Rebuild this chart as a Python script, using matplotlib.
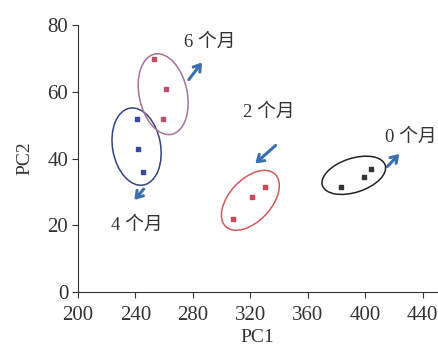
import numpy as np
import matplotlib.pyplot as plt
from matplotlib.patches import Ellipse
from matplotlib.transforms import ScaledTranslation

plt.rcParams['font.family'] = ['Liberation Serif', 'Noto Sans CJK SC']

# cluster points (PC1, PC2) per storage time
pc1_0 = [383, 399, 404]
pc2_0 = [31.5, 34.5, 37]
pc1_2 = [308, 321, 330]
pc2_2 = [22, 28.5, 31.5]
pc1_4 = [241, 242, 245]
pc2_4 = [52, 43, 36]
pc1_6 = [253, 261, 259]
pc2_6 = [70, 61, 52]

labels = ['0 个月', '2 个月', '4 个月', '6 个月']
label_pos = [(432, 46.5), (333, 54), (241, 20), (292, 75)]
arrow_from = [(414, 37), (339, 44.5), (247, 31.5), (276, 63)]
arrow_to = [(425, 42), (322, 38), (238, 27), (287.5, 69.5)]

# ellipse center (data), size in pixels, angle in screen space
ell_center = [(392, 35), (320, 27.5), (240.8, 43.6), (259.3, 59.3)]
ell_size = [(66, 34), (72, 42), (78, 48), (82, 48)]
ell_angle = [18, 47, 100, 102]
ell_color = ['#222222', '#d45a5a', '#34447e', '#a8709a']

fig = plt.figure(figsize=(4.38, 3.49), dpi=100)
ax = fig.add_axes([0.178, 0.163, 0.82, 0.765])

ax.scatter(pc1_0, pc2_0, marker='s', s=9, c='#333333')
ax.scatter(pc1_2, pc2_2, marker='s', s=9, c='#d04858')
ax.scatter(pc1_4, pc2_4, marker='s', s=9, c='#3a4a9a')
ax.scatter(pc1_6, pc2_6, marker='s', s=9, c='#b85068')

for (cx, cy), (w, h), a, col in zip(ell_center, ell_size, ell_angle, ell_color):
    tr = fig.dpi_scale_trans + ScaledTranslation(cx, cy, ax.transData)
    ax.add_patch(Ellipse((0, 0), w / 100, h / 100, angle=a, fill=False,
                         edgecolor=col, lw=1.1, transform=tr))

for lab, (tx, ty), p0, p1 in zip(labels, label_pos, arrow_from, arrow_to):
    ax.text(tx, ty, lab, ha='center', va='center', fontsize=13.5, color='#333333')
    ax.annotate('', xy=p1, xytext=p0,
                arrowprops=dict(arrowstyle='->,head_length=0.45,head_width=0.3',
                                color='#3a6fb0', lw=2.2))

ax.set_xlim(200, 450)
ax.set_ylim(0, 80)
ax.set_xticks([200, 240, 280, 320, 360, 400, 440])
ax.set_yticks([0, 20, 40, 60, 80])
ax.spines['top'].set_visible(False)
ax.spines['right'].set_visible(False)
for s in ['left', 'bottom']:
    ax.spines[s].set_color('#333333')
ax.tick_params(direction='out', length=4, labelsize=15, colors='#333333')
ax.tick_params(axis='x', pad=6)
ax.tick_params(axis='y', pad=3)
ax.set_xlabel('PC1', fontsize=14, color='#333333', labelpad=3)
ax.set_ylabel('PC2', fontsize=14, color='#333333', labelpad=10)

fig.savefig('out.png', dpi=100)
